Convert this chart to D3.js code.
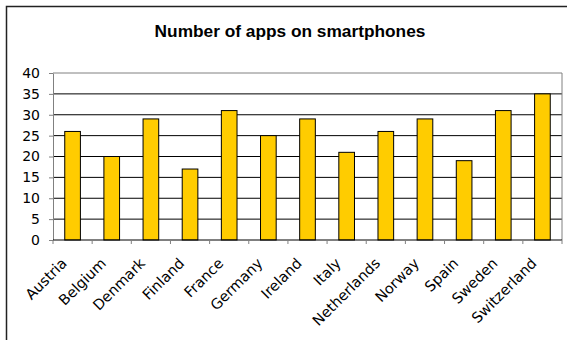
<!DOCTYPE html>
<html>
<head>
<meta charset="utf-8">
<script src="https://cdn.jsdelivr.net/npm/d3@7"></script>
<style>
  body { margin: 0; background: #fff; }
  svg { display: block; }
</style>
</head>
<body>
<svg></svg>
<script>
const width = 567
const height = 340

// data
const countries = ["Austria", "Belgium", "Denmark", "Finland", "France", "Germany", "Ireland",
  "Italy", "Netherlands", "Norway", "Spain", "Sweden", "Switzerland"]
const apps = [26, 20, 29, 17, 31, 25, 29, 21, 26, 29, 19, 31, 35]
const yTicks = [0, 5, 10, 15, 20, 25, 30, 35, 40]

const plot = {left: 53, right: 562, top: 73, bottom: 240}

const svg = d3.select('svg').attr('width', width).attr('height', height)

// chart frame
svg.append('rect')
  .attr('x', 6.5).attr('y', 6.5)
  .attr('width', 700).attr('height', 500)
  .attr('fill', 'none')
  .attr('stroke', '#222')
  .attr('stroke-width', 1.5)

// title
svg.append('text')
  .attr('x', 290).attr('y', 37)
  .attr('text-anchor', 'middle')
  .attr('font-family', 'Liberation Sans, Arial, sans-serif')
  .attr('font-weight', 'bold')
  .attr('font-size', 17.3)
  .text('Number of apps on smartphones')

const x = d3.scaleBand().domain(countries)
  .range([plot.left, plot.right])
  .paddingInner(0.6).paddingOuter(0.3)

const y = d3.scaleLinear().domain([0, 40]).range([plot.bottom, plot.top])

const g = svg.append('g')

// gridlines
g.selectAll('.grid').data(yTicks.filter(d => d > 0 && d < 40)).enter().append('line')
  .attr('x1', plot.left).attr('x2', plot.right)
  .attr('y1', d => y(d)).attr('y2', d => y(d))
  .attr('stroke', '#000').attr('stroke-width', 1)

// plot border (top, right)
g.append('path')
  .attr('d', `M${plot.left},${y(40)}H${plot.right}V${plot.bottom}`)
  .attr('fill', 'none').attr('stroke', '#808080').attr('stroke-width', 1)

// bars
g.selectAll('.bar').data(apps).enter().append('rect')
  .attr('x', (d, i) => x(countries[i]))
  .attr('y', d => y(d))
  .attr('width', x.bandwidth())
  .attr('height', d => y(0) - y(d))
  .attr('fill', '#FFCC00')
  .attr('stroke', '#000')
  .attr('stroke-width', 1)

// y axis
const yAxis = g.append('g')
  .attr('transform', `translate(${plot.left},0)`)
  .call(d3.axisLeft(y).tickValues(yTicks).tickSize(4).tickPadding(9).tickSizeOuter(0))
yAxis.select('.domain').attr('stroke', '#808080')
yAxis.selectAll('.tick line').attr('stroke', '#808080')
yAxis.selectAll('text')
  .attr('font-family', 'DejaVu Sans, Verdana, sans-serif')
  .attr('font-size', 14)
  .attr('fill', '#000')

// x axis
const step = x.step()
const xb = g.append('g').attr('transform', `translate(0,${plot.bottom})`)
xb.append('line')
  .attr('x1', plot.left).attr('x2', plot.right)
  .attr('stroke', '#000')
xb.selectAll('.xtick').data(d3.range(countries.length + 1)).enter().append('line')
  .attr('x1', i => plot.left + i * step).attr('x2', i => plot.left + i * step)
  .attr('y1', 0).attr('y2', 4)
  .attr('stroke', '#808080')

xb.selectAll('.xlabel').data(countries).enter().append('text')
  .attr('transform', d => `translate(${x(d) + x.bandwidth() / 2 - 12},${17}) rotate(-45)`)
  .attr('text-anchor', 'end')
  .attr('dy', '0.7em')
  .attr('font-family', 'DejaVu Sans, Verdana, sans-serif')
  .attr('font-size', 14.5)
  .attr('fill', '#000')
  .text(d => d)
</script>
</body>
</html>
